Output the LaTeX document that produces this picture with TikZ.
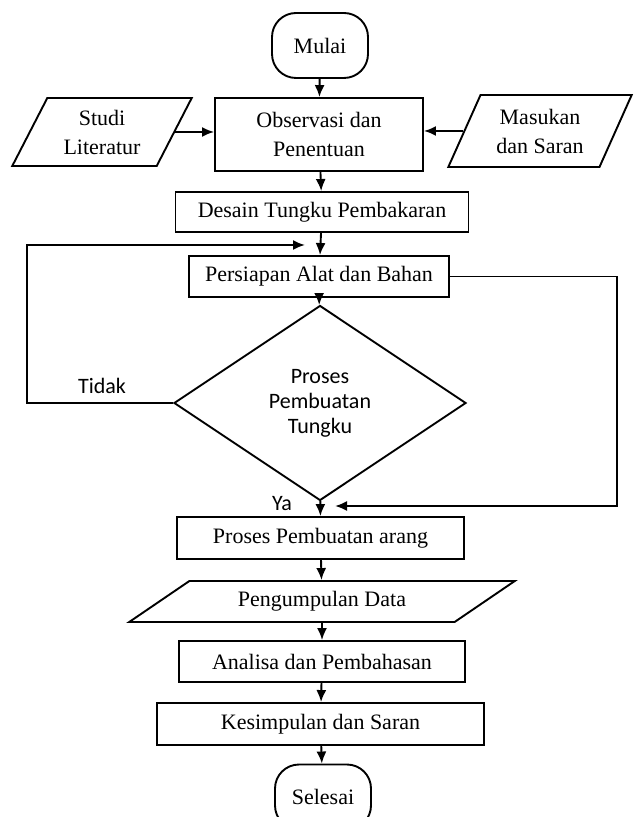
\documentclass[tikz,border=0pt]{standalone}
\usepackage{fontspec}
\setmainfont{Liberation Serif}
\newfontfamily\calibri{Carlito}
\usetikzlibrary{shapes.geometric,arrows.meta}

\begin{document}
\begin{tikzpicture}[x=0.5pt,y=-0.5pt,line width=0.95pt,
    font=\fontsize{11}{14.5}\selectfont,
    proses/.style={draw,rectangle,inner sep=0pt,align=center},
    io/.style={draw,trapezium,trapezium stretches=true,inner sep=0pt,align=center},
    terminal/.style={draw,rectangle,rounded corners=12pt,inner sep=0pt,minimum width=48pt,minimum height=32.5pt},
    keputusan/.style={draw,diamond,inner sep=0pt,align=center,font=\calibri\fontsize{11}{12.5}\selectfont},
    ket/.style={font=\calibri\fontsize{11}{13}\selectfont,inner sep=0pt},
    panah/.style={-{Latex[length=6pt,width=5pt]}}]
      \useasboundingbox (0,0) rectangle (634,817);
      % alur utama
      \node[terminal] (mulai) at (320,45.5) {Mulai};
      \node[proses,minimum width=104pt,minimum height=36.5pt] (obs) at (319,134.5) {Observasi dan\\Penentuan};
      \node[io,trapezium left angle=61,trapezium right angle=119,minimum width=90pt,minimum height=34pt] (studi) at (102,132) {Studi\\Literatur};
      \node[io,trapezium left angle=62,trapezium right angle=118,minimum width=92pt,minimum height=36pt] (masukan) at (540,131) {Masukan\\dan Saran};
      \node[proses,minimum width=146.5pt,minimum height=20pt] (desain) at (322,212) {Desain Tungku Pembakaran};
      \node[proses,minimum width=130pt,minimum height=20.5pt] (persiapan) at (319,276.5) {Persiapan Alat dan Bahan};
      \node[keputusan,minimum width=146pt,minimum height=97.5pt] (putusan) at (320,403) {Proses\\Pembuatan\\Tungku};
      \node[proses,minimum width=143.5pt,minimum height=21pt] (arang) at (320.5,538) {Proses Pembuatan arang};
      \node[io,trapezium left angle=27.7,trapezium right angle=152.3,minimum width=193pt,minimum height=20.5pt] (data) at (322,601.5) {Pengumpulan Data};
      \node[proses,minimum width=143pt,minimum height=20.5pt] (analisa) at (322,661.5) {Analisa dan Pembahasan};
      \node[proses,minimum width=163.5pt,minimum height=21pt] (simpul) at (320.5,724) {Kesimpulan dan Saran};
      \node[terminal] (selesai) at (323,797) {Selesai};
      \node[ket] (tidak) at (102,386) {Tidak};
      \node[ket] (ya) at (282,504) {Ya};
      \coordinate (kiri) at (27,245);
      \coordinate (balik) at (305,245);
      \coordinate (kanan) at (617,506);
      \coordinate (masuk) at (335,506);
      % panah
      \draw[panah] (mulai) -- (obs);
      \draw[panah] (studi.east) -- (studi.east -| obs.west);
      \draw[panah] (masukan.west) -- (masukan.west -| obs.east);
      \draw[panah] (obs) -- (desain);
      \draw[panah] (desain) -- (persiapan);
      \draw[panah] (persiapan) -- (putusan);
      \draw[panah] (putusan.west) -| (kiri) -- (balik);
      \draw[panah] (persiapan.east) -| (kanan) -- (masuk);
      \draw[panah] (putusan) -- (arang);
      \draw[panah] (arang) -- (data);
      \draw[panah] (data) -- (analisa);
      \draw[panah] (analisa) -- (simpul);
      \draw[panah] (simpul) -- (selesai);
    \end{tikzpicture}
\end{document}
